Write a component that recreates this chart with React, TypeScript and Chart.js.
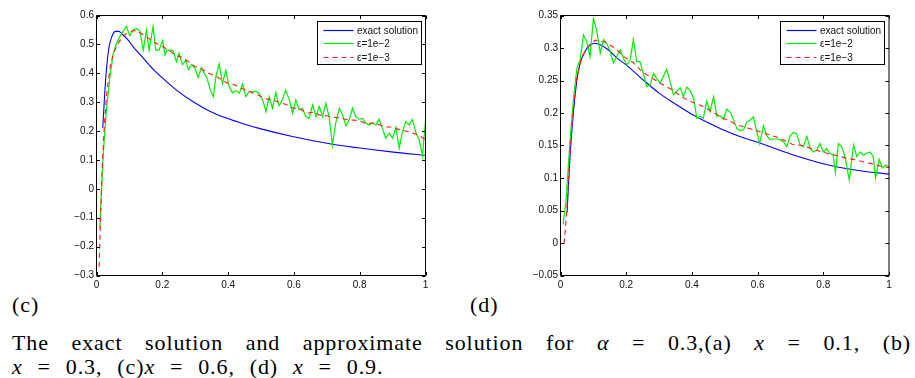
import React, { useEffect, useRef } from "react";
import { Chart, registerables } from "chart.js";

Chart.register(...registerables);

// ---------- tick labels ----------
const xTickValues = [0, 0.2, 0.4, 0.6, 0.8, 1];
const cYTickValues = [-0.3, -0.2, -0.1, 0, 0.1, 0.2, 0.3, 0.4, 0.5, 0.6];
const dYTickValues = [-0.05, 0, 0.05, 0.1, 0.15, 0.2, 0.25, 0.3, 0.35];
const legendLabels = ["exact solution", "ε=1e−2", "ε=1e−3"];

// ---------- panel (c) ----------
const cExactX = [0.019, 0.025, 0.03, 0.038, 0.048, 0.058, 0.068, 0.078, 0.093, 0.113, 0.144, 0.174, 0.2, 0.245, 0.296, 0.346, 0.397, 0.448, 0.5, 0.592, 0.713, 0.794, 0.896, 1.0];
const cExactY = [0.211, 0.33, 0.41, 0.49, 0.531, 0.545, 0.545, 0.536, 0.519, 0.49, 0.45, 0.412, 0.384, 0.34, 0.30, 0.268, 0.244, 0.2245, 0.2075, 0.182, 0.155, 0.142, 0.128, 0.116];

const cEps2X = [0.010, 0.020, 0.030, 0.041, 0.051, 0.061, 0.071, 0.081, 0.091, 0.101, 0.111, 0.122, 0.132, 0.142, 0.152, 0.160, 0.172, 0.180, 0.190, 0.201, 0.208, 0.215, 0.225, 0.233, 0.243, 0.251, 0.261, 0.272, 0.279, 0.289, 0.299, 0.309, 0.319, 0.329, 0.336, 0.346, 0.355, 0.363, 0.373, 0.383, 0.393, 0.403, 0.413, 0.424, 0.434, 0.444, 0.454, 0.464, 0.474, 0.484, 0.494, 0.505, 0.515, 0.525, 0.535, 0.545, 0.555, 0.565, 0.575, 0.586, 0.596, 0.606, 0.616, 0.626, 0.636, 0.646, 0.657, 0.667, 0.677, 0.687, 0.697, 0.707, 0.717, 0.727, 0.738, 0.748, 0.758, 0.768, 0.778, 0.788, 0.798, 0.809, 0.819, 0.829, 0.839, 0.849, 0.859, 0.869, 0.879, 0.890, 0.900, 0.910, 0.920, 0.930, 0.940, 0.950, 0.960, 0.971, 0.981, 0.991, 1.000];
const cEps2Y = [-0.137, 0.111, 0.273, 0.389, 0.469, 0.504, 0.527, 0.545, 0.562, 0.530, 0.550, 0.555, 0.545, 0.480, 0.550, 0.480, 0.562, 0.480, 0.480, 0.513, 0.463, 0.480, 0.480, 0.478, 0.440, 0.470, 0.430, 0.444, 0.412, 0.430, 0.418, 0.386, 0.420, 0.397, 0.383, 0.342, 0.319, 0.389, 0.432, 0.365, 0.410, 0.354, 0.333, 0.340, 0.331, 0.363, 0.319, 0.336, 0.336, 0.338, 0.331, 0.308, 0.267, 0.319, 0.279, 0.333, 0.287, 0.308, 0.342, 0.308, 0.262, 0.308, 0.273, 0.279, 0.250, 0.244, 0.291, 0.250, 0.285, 0.250, 0.296, 0.250, 0.152, 0.227, 0.279, 0.256, 0.218, 0.238, 0.279, 0.250, 0.241, 0.244, 0.227, 0.221, 0.229, 0.221, 0.241, 0.210, 0.175, 0.193, 0.175, 0.213, 0.140, 0.198, 0.233, 0.221, 0.241, 0.193, 0.169, 0.114, 0.238];

const cEps3X = [0.008, 0.012, 0.017, 0.024, 0.032, 0.043, 0.053, 0.068, 0.083, 0.10, 0.12, 0.14, 0.16, 0.18, 0.20, 0.22, 0.24, 0.26, 0.28, 0.30, 0.32, 0.34, 0.36, 0.38, 0.40, 0.42, 0.44, 0.46, 0.48, 0.50, 0.52, 0.54, 0.56, 0.58, 0.60, 0.62, 0.64, 0.66, 0.68, 0.70, 0.72, 0.74, 0.76, 0.78, 0.80, 0.82, 0.84, 0.86, 0.88, 0.90, 0.92, 0.94, 0.96, 0.98, 1.0];
const cEps3Y = [-0.27, -0.11, 0.063, 0.225, 0.34, 0.433, 0.473, 0.508, 0.53, 0.545, 0.548, 0.535, 0.52, 0.505, 0.493, 0.48, 0.462, 0.455, 0.44, 0.423, 0.415, 0.40, 0.392, 0.378, 0.365, 0.36, 0.348, 0.34, 0.33, 0.32, 0.31, 0.305, 0.298, 0.29, 0.278, 0.275, 0.262, 0.265, 0.255, 0.253, 0.248, 0.245, 0.24, 0.238, 0.236, 0.225, 0.228, 0.222, 0.215, 0.213, 0.205, 0.2, 0.193, 0.185, 0.17];

// ---------- panel (d) ----------
const dExactX = [0.02, 0.029, 0.04, 0.05, 0.06, 0.075, 0.09, 0.105, 0.121, 0.146, 0.173, 0.2, 0.247, 0.299, 0.349, 0.4, 0.45, 0.5, 0.55, 0.6, 0.7, 0.8, 0.9, 1.0];
const dExactY = [0.047, 0.133, 0.205, 0.251, 0.277, 0.295, 0.305, 0.307, 0.305, 0.297, 0.284, 0.274, 0.253, 0.231, 0.214, 0.198, 0.185, 0.173, 0.163, 0.155, 0.137, 0.122, 0.112, 0.106];

const dEps2X = [0.008, 0.017, 0.029, 0.040, 0.050, 0.060, 0.070, 0.080, 0.090, 0.100, 0.110, 0.121, 0.131, 0.141, 0.151, 0.161, 0.171, 0.182, 0.192, 0.202, 0.212, 0.222, 0.232, 0.242, 0.252, 0.262, 0.273, 0.283, 0.293, 0.303, 0.313, 0.323, 0.334, 0.344, 0.354, 0.364, 0.374, 0.384, 0.394, 0.405, 0.415, 0.425, 0.435, 0.445, 0.455, 0.466, 0.476, 0.486, 0.496, 0.506, 0.517, 0.527, 0.537, 0.547, 0.557, 0.567, 0.577, 0.587, 0.597, 0.606, 0.618, 0.628, 0.638, 0.648, 0.658, 0.668, 0.679, 0.689, 0.699, 0.709, 0.719, 0.729, 0.739, 0.750, 0.760, 0.770, 0.780, 0.790, 0.800, 0.810, 0.820, 0.830, 0.837, 0.846, 0.856, 0.866, 0.879, 0.892, 0.902, 0.912, 0.922, 0.932, 0.942, 0.952, 0.959, 0.970, 0.980, 0.990, 1.000];
const dEps2Y = [0.029, 0.066, 0.158, 0.225, 0.269, 0.282, 0.320, 0.310, 0.287, 0.345, 0.328, 0.292, 0.313, 0.307, 0.295, 0.277, 0.287, 0.297, 0.284, 0.274, 0.282, 0.313, 0.279, 0.279, 0.261, 0.241, 0.243, 0.261, 0.253, 0.246, 0.256, 0.267, 0.248, 0.228, 0.233, 0.239, 0.225, 0.240, 0.235, 0.223, 0.192, 0.195, 0.192, 0.218, 0.202, 0.225, 0.195, 0.196, 0.190, 0.206, 0.201, 0.189, 0.176, 0.173, 0.174, 0.186, 0.189, 0.194, 0.173, 0.153, 0.180, 0.165, 0.159, 0.160, 0.160, 0.159, 0.156, 0.148, 0.165, 0.170, 0.168, 0.151, 0.148, 0.164, 0.146, 0.140, 0.143, 0.153, 0.140, 0.145, 0.138, 0.135, 0.108, 0.153, 0.148, 0.133, 0.097, 0.151, 0.133, 0.140, 0.135, 0.138, 0.140, 0.133, 0.100, 0.129, 0.115, 0.120, 0.117];

const dEps3X = [0.011, 0.016, 0.021, 0.028, 0.038, 0.049, 0.064, 0.084, 0.105, 0.135, 0.165, 0.195, 0.22, 0.25, 0.275, 0.306, 0.336, 0.372, 0.4, 0.43, 0.465, 0.496, 0.542, 0.583, 0.634, 0.664, 0.705, 0.735, 0.766, 0.796, 0.837, 0.867, 0.898, 0.938, 0.969, 1.0];
const dEps3Y = [-0.001, 0.03, 0.065, 0.132, 0.199, 0.252, 0.286, 0.301, 0.312, 0.309, 0.3, 0.286, 0.278, 0.263, 0.255, 0.245, 0.237, 0.224, 0.217, 0.211, 0.201, 0.192, 0.181, 0.175, 0.167, 0.162, 0.152, 0.15, 0.145, 0.14, 0.135, 0.131, 0.128, 0.123, 0.119, 0.116];

// ---------- styles ----------
const BLUE = "#0000ff";
const GREEN = "#00f000";
const RED = "#ff1a1a";
const SANS = '"Liberation Sans", Arial, Helvetica, sans-serif';
const SERIF = '"Liberation Serif", "Times New Roman", serif';
const TICK_COLOR = "#111";

const pts = (xs: number[], ys: number[]) => xs.map((x, i) => ({ x, y: ys[i] }));
const fmt = (v: number) => {
  const r = Math.round(v * 1000) / 1000;
  return String(r).replace("-", "\u2212");
};

const framePlugin = {
  id: "mlFrame",
  afterDatasetsDraw(chart: any) {
    const { ctx, chartArea } = chart;
    const xs = chart.scales.x;
    const ys = chart.scales.y;
    const L = chartArea.left, R = chartArea.right, T = chartArea.top, B = chartArea.bottom;
    const tl = 3.5;
    ctx.save();
    ctx.strokeStyle = "#000";
    ctx.lineWidth = 1;
    ctx.setLineDash([]);
    ctx.beginPath();
    ctx.rect(L, T, R - L, B - T);
    ctx.stroke();
    ctx.beginPath();
    xs.ticks.forEach((t: any) => {
      const px = Math.round(xs.getPixelForValue(t.value)) + 0.5;
      ctx.moveTo(px, B); ctx.lineTo(px, B - tl);
      ctx.moveTo(px, T); ctx.lineTo(px, T + tl);
    });
    ys.ticks.forEach((t: any) => {
      const py = Math.round(ys.getPixelForValue(t.value)) + 0.5;
      ctx.moveTo(L, py); ctx.lineTo(L + tl, py);
      ctx.moveTo(R, py); ctx.lineTo(R - tl, py);
    });
    ctx.stroke();
    ctx.restore();
  },
};

const legendPlugin = {
  id: "mlLegend",
  afterDraw(chart: any) {
    const { ctx, chartArea } = chart;
    const w = 104, h = 43;
    const x0 = Math.round(chartArea.right - 5 - w) + 0.5;
    const y0 = Math.round(chartArea.top + 5.5) + 0.5;
    ctx.save();
    ctx.fillStyle = "#fff";
    ctx.fillRect(x0, y0, w, h);
    ctx.strokeStyle = "#000";
    ctx.lineWidth = 1;
    ctx.strokeRect(x0, y0, w, h);
    chart.data.datasets.forEach((ds: any, i: number) => {
      const yy = Math.round(y0 + 8 + i * 13.7) + 0.5;
      ctx.strokeStyle = ds.borderColor;
      ctx.lineWidth = 1.2;
      ctx.setLineDash(ds.borderDash || []);
      ctx.beginPath();
      ctx.moveTo(x0 + 6, yy);
      ctx.lineTo(x0 + 36, yy);
      ctx.stroke();
      ctx.setLineDash([]);
      ctx.fillStyle = "#111";
      ctx.font = `10px ${SANS}`;
      ctx.textBaseline = "middle";
      ctx.fillText(ds.label, x0 + 39.5, yy + 0.5);
    });
    ctx.restore();
  },
};

interface PanelSpec {
  exact: { x: number; y: number }[];
  eps2: { x: number; y: number }[];
  eps3: { x: number; y: number }[];
  yTicks: number[];
  padRight: number;
}

function makeConfig(p: PanelSpec): any {
  const tickFont = { family: SANS, size: 10 };
  return {
    type: "line",
    data: {
      datasets: [
        { label: legendLabels[0], data: p.exact, borderColor: BLUE, borderWidth: 1.1, pointRadius: 0, cubicInterpolationMode: "monotone", order: 2 },
        { label: legendLabels[1], data: p.eps2, borderColor: GREEN, borderWidth: 1.2, pointRadius: 0, tension: 0, order: 1 },
        { label: legendLabels[2], data: p.eps3, borderColor: RED, borderWidth: 1.1, borderDash: [5, 4], pointRadius: 0, tension: 0, order: 0 },
      ],
    },
    options: {
      animation: false,
      responsive: false,
      events: [],
      layout: { padding: { left: 0, right: p.padRight, top: 15.5, bottom: 0 } },
      plugins: { legend: { display: false }, tooltip: { enabled: false } },
      scales: {
        x: {
          type: "linear",
          min: 0,
          max: 1,
          grid: { display: false, drawTicks: false },
          border: { display: false },
          ticks: { padding: 4, font: tickFont, color: TICK_COLOR, maxRotation: 0, autoSkip: false, callback: (v: number) => fmt(v) },
          afterBuildTicks: (s: any) => { s.ticks = xTickValues.map((v) => ({ value: v })); },
          afterFit: (s: any) => { s.height = 24.5; },
        },
        y: {
          type: "linear",
          min: p.yTicks[0],
          max: p.yTicks[p.yTicks.length - 1],
          grid: { display: false, drawTicks: false },
          border: { display: false },
          ticks: { padding: 2.5, font: tickFont, color: TICK_COLOR, autoSkip: false, callback: (v: number) => fmt(v) },
          afterBuildTicks: (s: any) => { s.ticks = p.yTicks.map((v) => ({ value: v })); },
          afterFit: (s: any) => { s.width = 56.5; },
        },
      },
    },
    plugins: [framePlugin, legendPlugin],
  };
}

function Panel({ spec, left }: { spec: PanelSpec; left: number }) {
  const ref = useRef<HTMLCanvasElement | null>(null);
  useEffect(() => {
    if (!ref.current) return;
    const chart = new Chart(ref.current, makeConfig(spec));
    return () => chart.destroy();
  }, []);
  return (
    <div style={{ position: "absolute", left, top: 0, width: 395, height: 300 }}>
      <canvas ref={ref} width={395} height={300} style={{ width: 395, height: 300, display: "block" }} />
    </div>
  );
}

const specC: PanelSpec = {
  exact: pts(cExactX, cExactY),
  eps2: pts(cEps2X, cEps2Y),
  eps3: pts(cEps3X, cEps3Y),
  yTicks: cYTickValues,
  padRight: 9.5,
};

const specD: PanelSpec = {
  exact: pts(dExactX, dExactY),
  eps2: pts(dEps2X, dEps2Y),
  eps3: pts(dEps3X, dEps3Y),
  yTicks: dYTickValues,
  padRight: 10,
};

export default function App() {
  const txt: React.CSSProperties = { position: "absolute", font: `22px ${SERIF}`, lineHeight: "24px", color: "#000", whiteSpace: "nowrap", letterSpacing: "0.9px" };
  return (
    <div style={{ position: "absolute", left: 0, top: 0, width: 915, height: 378, background: "#fff", overflow: "hidden" }}>
      <Panel spec={specC} left={40} />
      <Panel spec={specD} left={504} />
      <div style={{ ...txt, left: 12, top: 292.5 }}>(c)</div>
      <div style={{ ...txt, left: 470, top: 292.5 }}>(d)</div>
      <div style={{ ...txt, left: 12, top: 331, width: 899, textAlign: "justify", textAlignLast: "justify", whiteSpace: "normal" }}>
        The exact solution and approximate solution for <i>α</i> = 0.3,(a) <i>x</i> = 0.1, (b)
      </div>
      <div style={{ ...txt, left: 12, top: 355, wordSpacing: "8.5px" }}>
        <i>x</i> = 0.3, (c)<i>x</i> = 0.6, (d) <i>x</i> = 0.9.
      </div>
    </div>
  );
}
